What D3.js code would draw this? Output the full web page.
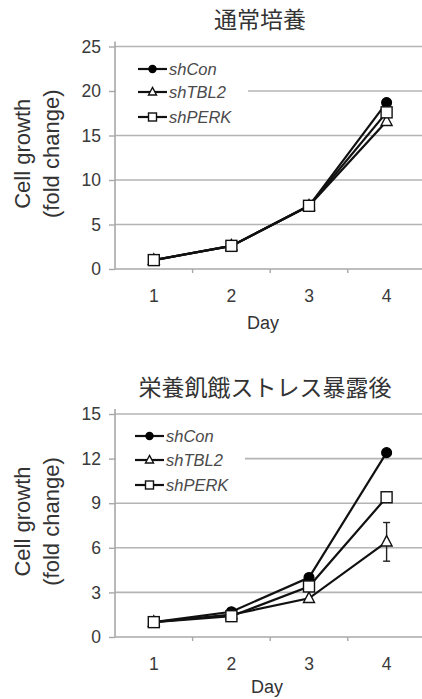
<!DOCTYPE html>
<html>
<head>
<meta charset="utf-8">
<script src="https://cdn.jsdelivr.net/npm/d3@7"></script>
<style>
  html, body { margin: 0; padding: 0; background: #fff; }
  svg { display: block; }
  text { font-family: "Liberation Sans", Arial, Helvetica, sans-serif; }
</style>
</head>
<body>
<svg id="chart" width="422" height="699"></svg>
<script>
// ---- data ----
const days = [1, 2, 3, 4];
const seriesNames = ["shCon", "shTBL2", "shPERK"];
const seriesMarkers = ["circle", "triangle", "square"];

const titleTop = "通常培養";
const topShCon  = [1.0, 2.6, 7.1, 18.7];
const topShTBL2 = [1.0, 2.6, 7.1, 16.6];
const topShPERK = [1.0, 2.6, 7.1, 17.6];
const topErrTBL2 = [0, 0, 0, 0];
const topTicks = [0, 5, 10, 15, 20, 25];

const titleBottom = "栄養飢餓ストレス暴露後";
const botShCon  = [1.0, 1.7, 4.0, 12.4];
const botShTBL2 = [1.0, 1.5, 2.6, 6.4];
const botShPERK = [1.0, 1.4, 3.4, 9.4];
const botErrTBL2 = [0, 0, 0, 1.3];
const botTicks = [0, 3, 6, 9, 12, 15];

const yTitle1 = "Cell growth";
const yTitle2 = "(fold change)";
const xTitle = "Day";

// ---- drawing ----
const svg = d3.select("#chart");

function panel(cfg) {
  const g = svg.append("g");
  const x = d3.scaleBand().domain(days).range([115, 425.4]).padding(0);
  const y = d3.scaleLinear().domain([0, cfg.ticks[cfg.ticks.length - 1]]).range([cfg.y0, cfg.y1]);
  const cx = d => x(d) + x.bandwidth() / 2;

  // gridlines
  g.append("g").selectAll("line").data(cfg.ticks.filter(t => t > 0)).join("line")
    .attr("x1", 115).attr("x2", 422)
    .attr("y1", d => y(d)).attr("y2", d => y(d))
    .attr("stroke", "#b4b4b4").attr("stroke-width", 1.6);

  // y axis
  const yAxis = d3.axisLeft(y).tickValues(cfg.ticks).tickSize(6).tickPadding(8);
  const ya = g.append("g").attr("transform", "translate(115,0)").call(yAxis);
  ya.select(".domain").attr("stroke", "#a8a8a8").attr("stroke-width", 1.6)
    .attr("d", `M0,${y(cfg.ticks[cfg.ticks.length-1]) - 5}V${y(0)}`);
  ya.selectAll(".tick line").attr("stroke", "#a8a8a8").attr("stroke-width", 1.4);
  ya.selectAll(".tick text").attr("fill", "#3a3a3a")
    .style("font-size", "17.5px").style("font-family", "'Liberation Sans', Arial, sans-serif");

  // x axis
  const xa = g.append("g").attr("transform", `translate(0,${y(0)})`);
  xa.append("line").attr("x1", 115).attr("x2", 422).attr("stroke", "#a8a8a8").attr("stroke-width", 1.6);
  xa.selectAll("line.tk").data(days.slice(1)).join("line").attr("class", "tk")
    .attr("x1", d => x(d)).attr("x2", d => x(d)).attr("y1", 0).attr("y2", 4)
    .attr("stroke", "#a8a8a8").attr("stroke-width", 1.4);
  xa.selectAll("text").data(days).join("text")
    .attr("x", d => cx(d)).attr("y", 33)
    .attr("text-anchor", "middle").attr("fill", "#3a3a3a")
    .style("font-size", "17.5px").text(d => d);

  // axis titles
  g.append("text").attr("x", cfg.xTitleX).attr("y", y(0) + cfg.xTitleDy)
    .attr("text-anchor", "middle").attr("fill", "#333").style("font-size", "18px").text(xTitle);
  const ymid = (y(0) + y(cfg.ticks[cfg.ticks.length-1])) / 2 - 4;
  g.append("text").attr("transform", `translate(30,${ymid}) rotate(-90)`)
    .attr("text-anchor", "middle").attr("fill", "#333").style("font-size", "22px").text(yTitle1);
  g.append("text").attr("transform", `translate(59,${ymid}) rotate(-90)`)
    .attr("text-anchor", "middle").attr("fill", "#333").style("font-size", "22px").text(yTitle2);

  // chart title
  g.append("text").attr("x", cfg.titleX).attr("y", cfg.titleY)
    .attr("text-anchor", "middle").attr("fill", "#333")
    .style("font-family", "'Noto Sans CJK JP', sans-serif").style("font-size", "23px").text(cfg.title);

  // legend box (white, covers gridline)
  g.append("rect").attr("x", 116).attr("y", cfg.legY[0] - 13)
    .attr("width", cfg.legW).attr("height", cfg.legY[2] - cfg.legY[0] + 24).attr("fill", "#fff");

  // series
  const line = d3.line().x((d, i) => cx(days[i])).y(d => y(d));
  cfg.series.forEach(s => {
    g.append("path").datum(s.values).attr("d", line)
      .attr("fill", "none").attr("stroke", "#111").attr("stroke-width", 2.2);
  });
  // error bars
  cfg.series.forEach(s => {
    s.err.forEach((e, i) => {
      if (!e) return;
      const xx = cx(days[i]);
      const eg = g.append("g").attr("stroke", "#222").attr("stroke-width", 1.4);
      eg.append("line").attr("x1", xx).attr("x2", xx).attr("y1", y(s.values[i] + e)).attr("y2", y(s.values[i] - e));
      eg.append("line").attr("x1", xx - 3.5).attr("x2", xx + 3.5).attr("y1", y(s.values[i] + e)).attr("y2", y(s.values[i] + e));
      eg.append("line").attr("x1", xx - 3.5).attr("x2", xx + 3.5).attr("y1", y(s.values[i] - e)).attr("y2", y(s.values[i] - e));
    });
  });
  function marker(sel, type, px, py, sz) {
    if (type === "circle") {
      sel.append("circle").attr("cx", px).attr("cy", py).attr("r", sz * 0.45)
        .attr("fill", "#000").attr("stroke", "#000").attr("stroke-width", 1.2);
    } else if (type === "square") {
      sel.append("rect").attr("x", px - sz / 2).attr("y", py - sz / 2).attr("width", sz).attr("height", sz)
        .attr("fill", "#fff").attr("stroke", "#111").attr("stroke-width", 1.4);
    } else {
      const h = sz * 0.95;
      sel.append("path").attr("d", `M${px},${py - h * 0.6}L${px + sz / 2},${py + h * 0.4}L${px - sz / 2},${py + h * 0.4}Z`)
        .attr("fill", "#fff").attr("stroke", "#111").attr("stroke-width", 1.4);
    }
  }
  cfg.series.forEach(s => {
    s.values.forEach((v, i) => marker(g, s.marker, cx(days[i]), y(v), 11));
  });

  // legend entries
  cfg.series.forEach((s, i) => {
    const ly = cfg.legY[i];
    g.append("line").attr("x1", cfg.legX).attr("x2", cfg.legX + 29).attr("y1", ly).attr("y2", ly)
      .attr("stroke", "#111").attr("stroke-width", 2.2);
    marker(g, s.marker, cfg.legX + 14.5, ly, 8);
    g.append("text").attr("x", cfg.legX + 31).attr("y", ly + 6)
      .attr("fill", "#4a4a4a").style("font-size", "16.5px").style("font-style", "italic").text(s.name);
  });
}

panel({
  title: titleTop, titleX: 260, titleY: 28,
  y0: 269, y1: 46.5, ticks: topTicks, xTitleX: 263, xTitleDy: 60,
  legX: 138, legY: [69, 92, 117], legW: 132,
  series: [
    { name: seriesNames[0], marker: seriesMarkers[0], values: topShCon, err: [0,0,0,0] },
    { name: seriesNames[1], marker: seriesMarkers[1], values: topShTBL2, err: topErrTBL2 },
    { name: seriesNames[2], marker: seriesMarkers[2], values: topShPERK, err: [0,0,0,0] }
  ]
});

panel({
  title: titleBottom, titleX: 265, titleY: 396,
  y0: 637, y1: 414, ticks: botTicks, xTitleX: 267, xTitleDy: 56,
  legX: 135, legY: [436, 460, 485], legW: 129,
  series: [
    { name: seriesNames[0], marker: seriesMarkers[0], values: botShCon, err: [0,0,0,0] },
    { name: seriesNames[1], marker: seriesMarkers[1], values: botShTBL2, err: botErrTBL2 },
    { name: seriesNames[2], marker: seriesMarkers[2], values: botShPERK, err: [0,0,0,0] }
  ]
});
</script>
</body>
</html>
